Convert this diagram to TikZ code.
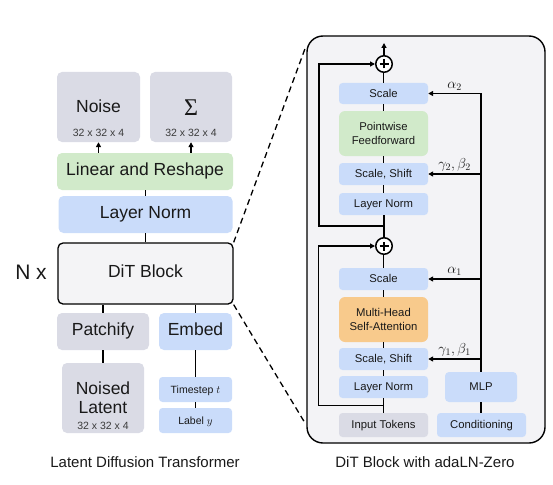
\documentclass[tikz,border=0pt]{standalone}
\usepackage{fontspec}
\setmainfont{Liberation Sans}
\newfontfamily\sigmafont{Liberation Serif}
\usetikzlibrary{arrows.meta,calc}
\definecolor{gbox}{RGB}{218,219,229}
\definecolor{bbox}{RGB}{202,220,250}
\definecolor{grbox}{RGB}{209,234,202}
\definecolor{obox}{RGB}{248,202,140}
\definecolor{panelc}{RGB}{243,243,246}
\definecolor{ditc}{RGB}{244,244,246}
\definecolor{txt}{RGB}{25,25,25}
\begin{document}
\begin{tikzpicture}[x=1pt,y=-1pt,
  lbox/.style={rectangle, rounded corners=5pt, inner sep=0pt, text=txt,
    font=\fontsize{17.5}{20}\selectfont, text height=0.72em, text depth=0pt},
  rbox/.style={rectangle, rounded corners=3.5pt, inner sep=0pt, text=txt,
    font=\fontsize{11.3}{14}\selectfont, text height=0.72em, text depth=0pt},
  rbig/.style={rectangle, rounded corners=6pt, inner sep=0pt, text=txt, align=center,
    font=\fontsize{11.3}{14}\selectfont},
  dimt/.style={inner sep=0pt, text=txt!85, font=\fontsize{10.5}{12}\selectfont},
  bigt/.style={inner sep=0pt, text=txt, font=\fontsize{17.5}{20}\selectfont},
  capt/.style={inner sep=0pt, text=txt, font=\fontsize{15}{18}\selectfont},
  greek/.style={inner sep=0pt, text=txt, font=\fontsize{14.5}{16}\selectfont},
  lconn/.style={draw=black, line width=1.4pt},
  rconn/.style={draw=black, line width=1.7pt},
  arr/.style={-{Triangle[length=5pt,width=5pt]}},
  plusnode/.style={circle, draw, line width=1.5pt, fill=white, minimum size=16.5pt, inner sep=0pt,
    path picture={
      \draw[line width=1.5pt] ([xshift=-4.5pt]path picture bounding box.center) -- ([xshift=4.5pt]path picture bounding box.center);
      \draw[line width=1.5pt] ([yshift=-4.5pt]path picture bounding box.center) -- ([yshift=4.5pt]path picture bounding box.center);}}
]
\useasboundingbox (0,0) rectangle (553,484);

% ---------------- left side ----------------
\node[lbox, fill=gbox, minimum width=83pt, minimum height=70pt] (noise) at (98.5,107) {};
\node[bigt] (noiset) at (98.5,106.5) {Noise};
\node[dimt] (noised) at (98.5,133) {32 x 32 x 4};
\node[lbox, fill=gbox, minimum width=82pt, minimum height=70pt] (sigma) at (191,107) {};
\node[inner sep=0pt, text=txt, font=\sigmafont\fontsize{24}{26}\selectfont] (sigmat) at (191,107.5) {Σ};
\node[dimt] (sigmad) at (191,133) {32 x 32 x 4};

\node[lbox, fill=grbox, minimum width=176pt, minimum height=37pt] (linear) at (145,171.5) {Linear and Reshape};
\node[lbox, fill=bbox, minimum width=174pt, minimum height=37pt] (lnorm) at (145.5,214.5) {Layer Norm};
\node[lbox, fill=ditc, draw=black, line width=1.3pt, minimum width=175pt, minimum height=61pt] (dit) at (145.5,273.5) {DiT Block};
\node[inner sep=0pt, text=txt, font=\fontsize{21}{24}\selectfont] (nx) at (31,272) {N x};

\node[lbox, fill=gbox, minimum width=92pt, minimum height=37pt] (patchify) at (103,331.5) {Patchify};
\node[lbox, fill=bbox, minimum width=73pt, minimum height=37pt] (embed) at (195.5,331.5) {Embed};
\node[lbox, fill=gbox, minimum width=82pt, minimum height=70pt] (noisedlat) at (103,398) {};
\node[bigt] (nl1) at (103,388) {Noised};
\node[bigt] (nl2) at (103,408) {Latent};
\node[dimt] (nl3) at (103,426) {32 x 32 x 4};
\node[rbox, fill=bbox, minimum width=73pt, minimum height=25pt, font=\fontsize{10.5}{12}\selectfont] (timestep) at (195.5,389.5) {Timestep $t$};
\node[rbox, fill=bbox, minimum width=73pt, minimum height=25pt, font=\fontsize{10.5}{12}\selectfont] (label) at (195.5,420.5) {Label $y$};

\draw[lconn, arr] (linear.north -| noise.south) -- (noise.south);
\draw[lconn, arr] (linear.north -| sigma.south) -- (sigma.south);
\draw[lconn] (lnorm.north) -- (lnorm.north |- linear.south);
\draw[lconn] (dit.north) -- (dit.north |- lnorm.south);
\draw[lconn] (patchify.north) -- (patchify.north |- dit.south);
\draw[lconn] (embed.north) -- (embed.north |- dit.south);
\draw[lconn] (noisedlat.north) -- (patchify.south);
\draw[lconn] (timestep.north) -- (embed.south);
\draw[lconn] (label.north) -- (timestep.south);

\node[capt] (cap1) at (145,462) {Latent Diffusion Transformer};

% ---------------- right panel ----------------
\node[draw=black, line width=1.4pt, rounded corners=16pt, fill=panelc, minimum width=238pt, minimum height=407pt, inner sep=0pt] (panel) at (426,239.5) {};

\coordinate (dtop) at (306,46);
\coordinate (dbot) at (305,423);
\draw[line width=1.3pt, dash pattern=on 6pt off 4pt] (dit.north east) -- (dtop);
\draw[line width=1.3pt, dash pattern=on 6pt off 4pt] (dit.south east) -- (dbot);

\node[plusnode] (plus2) at (384,64) {};
\node[rbox, fill=bbox, minimum width=89pt, minimum height=21pt] (scale2) at (383.5,93.5) {Scale};
\node[rbig, fill=grbox, minimum width=89pt, minimum height=45pt] (ff) at (383.5,133.5) {Pointwise\\Feedforward};
\node[rbox, fill=bbox, minimum width=89pt, minimum height=22pt] (ss2) at (383.5,174) {Scale, Shift};
\node[rbox, fill=bbox, minimum width=89pt, minimum height=22pt] (ln2) at (383.5,204) {Layer Norm};
\node[plusnode] (plus1) at (384,246) {};
\node[rbox, fill=bbox, minimum width=89pt, minimum height=22pt] (scale1) at (383.5,279) {Scale};
\node[rbig, fill=obox, minimum width=89pt, minimum height=45pt] (mhsa) at (383.5,319.5) {Multi-Head\\Self-Attention};
\node[rbox, fill=bbox, minimum width=89pt, minimum height=22pt] (ss1) at (383.5,359) {Scale, Shift};
\node[rbox, fill=bbox, minimum width=89pt, minimum height=22pt] (ln1) at (383.5,387) {Layer Norm};
\node[rbox, fill=gbox, minimum width=89pt, minimum height=24pt] (input) at (383.5,425) {Input Tokens};
\node[rbox, fill=bbox, minimum width=72pt, minimum height=30pt, rounded corners=4pt] (mlp) at (481,387) {MLP};
\node[rbox, fill=bbox, minimum width=89pt, minimum height=24pt] (cond) at (481.5,425) {Conditioning};

\coordinate (outp) at (384,43);
\coordinate (b1) at ($(ln1.south)!0.5!(input.north)$);
\coordinate (b2) at ($(ln2.south)!0.5!(plus1.north)$);

% main vertical chain
\draw[rconn] (input.north) -- (ln1.south);
\draw[rconn] (ln1.north) -- (ss1.south);
\draw[rconn] (ss1.north) -- (mhsa.south);
\draw[rconn] (mhsa.north) -- (scale1.south);
\draw[rconn] (scale1.north) -- (plus1.south -| scale1.north);
\draw[rconn] (plus1.north) -- (plus1.north |- ln2.south);
\draw[rconn] (ln2.north) -- (ss2.south);
\draw[rconn] (ss2.north) -- (ff.south);
\draw[rconn] (ff.north) -- (scale2.south);
\draw[rconn] (scale2.north) -- (plus2.south -| scale2.north);
\draw[rconn, arr] (plus2.north) -- (outp);

% residual paths
\draw[rconn, arr] (b1) -- ++(-65,0) |- (plus1.west);
\draw[rconn, arr] (b2) -- ++(-65,0) |- (plus2.west);

% conditioning path
\draw[line width=2pt] (cond.north -| mlp.south) -- (mlp.south);
\draw[line width=2pt] (mlp.north) -- (mlp.north |- scale2.east);
\draw[lconn, arr] (mlp.north |- scale2.east) -- (scale2.east) node[greek, midway, above=2.5pt] (a2) {$\alpha_2$};
\draw[lconn, arr] (mlp.north |- ss2.east) -- (ss2.east) node[greek, midway, above=2.5pt] (gb2) {$\gamma_2,\beta_2$};
\draw[lconn, arr] (mlp.north |- scale1.east) -- (scale1.east) node[greek, midway, above=2.5pt] (a1) {$\alpha_1$};
\draw[lconn, arr] (mlp.north |- ss1.east) -- (ss1.east) node[greek, midway, above=2.5pt] (gb1) {$\gamma_1,\beta_1$};

\node[capt] (cap2) at (425,462) {DiT Block with adaLN-Zero};
\end{tikzpicture}
\end{document}
